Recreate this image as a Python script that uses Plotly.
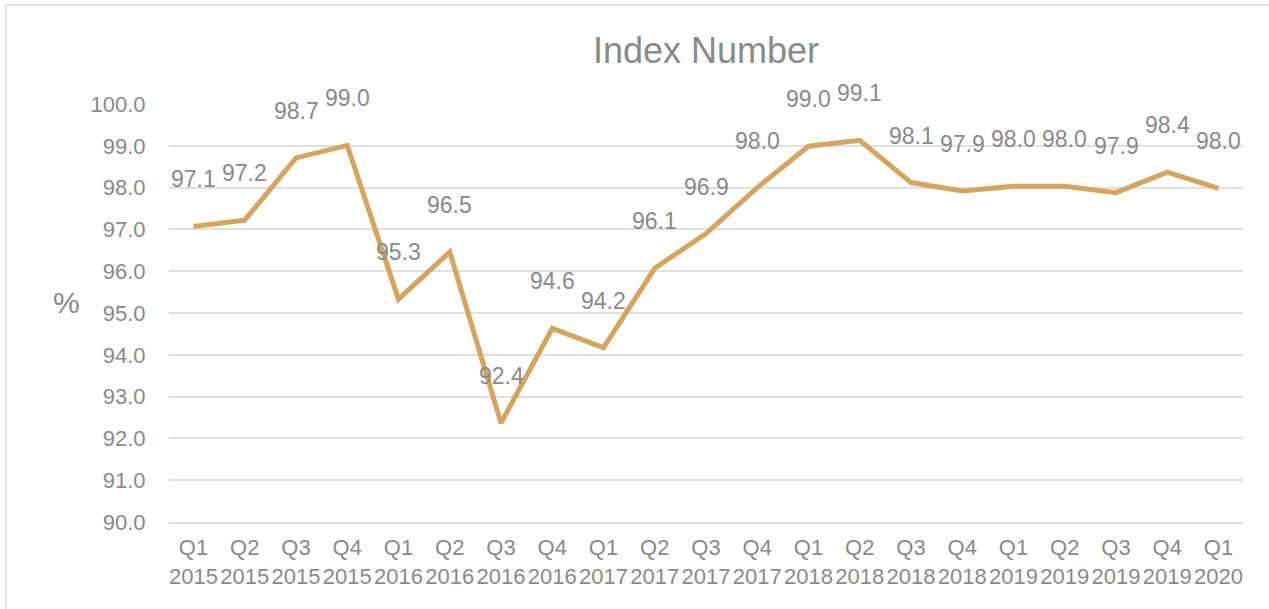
import plotly.graph_objects as go

quarters = ["Q1", "Q2", "Q3", "Q4", "Q1", "Q2", "Q3", "Q4", "Q1", "Q2", "Q3",
            "Q4", "Q1", "Q2", "Q3", "Q4", "Q1", "Q2", "Q3", "Q4", "Q1"]
years = ["2015", "2015", "2015", "2015", "2016", "2016", "2016", "2016", "2017", "2017", "2017",
         "2017", "2018", "2018", "2018", "2018", "2019", "2019", "2019", "2019", "2020"]
index_values = [97.07, 97.22, 98.71, 99.01, 95.33, 96.46, 92.37, 94.63, 94.17, 96.07, 96.90,
                98.00, 98.99, 99.13, 98.12, 97.92, 98.03, 98.03, 97.88, 98.37, 97.98]

categories = [f"{q}<br>{y}" for q, y in zip(quarters, years)]

GRAY = "#8a8a8a"
FONT = "Liberation Sans, Arial, sans-serif"

fig = go.Figure()
fig.add_trace(go.Scatter(
    x=categories, y=index_values, mode="lines",
    line=dict(color="#D7A45E", width=5),
    hoverinfo="skip", showlegend=False,
))

for c, v in zip(categories, index_values):
    fig.add_annotation(x=c, y=v, text=f"{v:.1f}", showarrow=False,
                       yshift=47, font=dict(family=FONT, size=23, color=GRAY))

fig.add_annotation(text="%", xref="paper", yref="paper",
                   x=(51 - 169) / 1074, y=(522 - 302) / 418,
                   showarrow=False, font=dict(family=FONT, size=30, color=GRAY))

# chart border
fig.add_shape(type="rect", xref="paper", yref="paper",
              x0=(6 - 169) / 1074, x1=(1275 - 169) / 1074,
              y0=(522 - 615) / 418, y1=(522 - 5) / 418,
              line=dict(color="#e3e3e3", width=2), layer="below")

fig.update_layout(
    width=1269, height=609,
    margin=dict(l=169, r=26, t=104, b=87),
    paper_bgcolor="white", plot_bgcolor="white",
    title=dict(text="Index Number", x=706 / 1269, xanchor="center",
               y=1 - 50 / 609, yanchor="middle",
               font=dict(family=FONT, size=36, color=GRAY)),
    font=dict(family=FONT, color=GRAY),
)
fig.update_xaxes(
    type="category", tickangle=0, showgrid=False,
    showline=True, linecolor="#e0e0e0", linewidth=2,
    ticks="outside", ticklen=5, tickcolor="rgba(0,0,0,0)",
    tickfont=dict(family=FONT, size=22, color=GRAY),
)
fig.update_yaxes(
    range=[90, 100], dtick=1, tickformat=".1f",
    showgrid=True, gridcolor="#e0e0e0", gridwidth=2, zeroline=False,
    ticks="outside", ticklen=18, tickcolor="rgba(0,0,0,0)",
    tickfont=dict(family=FONT, size=22, color=GRAY),
)

fig.write_html("out.html", config={"displayModeBar": False},
               post_script="document.body.style.margin='0px';")
